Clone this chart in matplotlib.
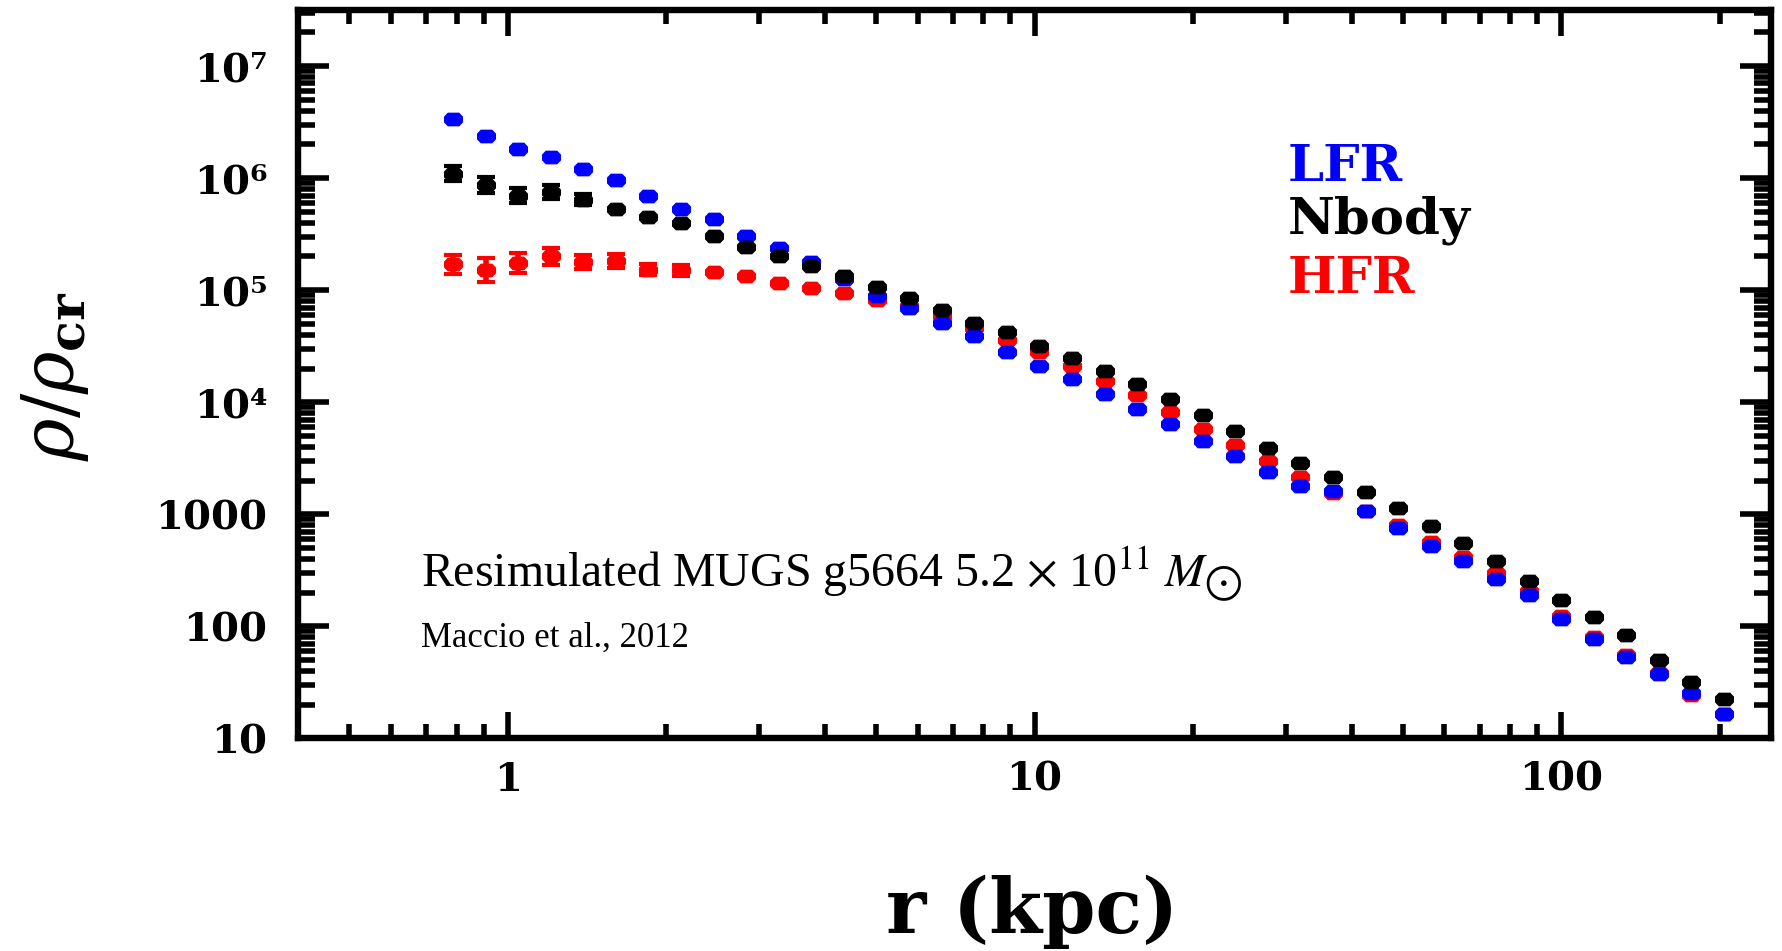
import numpy as np
import matplotlib
matplotlib.use("Agg")
import matplotlib.pyplot as plt
from matplotlib.ticker import FixedLocator, LogLocator, NullFormatter

# radius bins (kpc)
r = [0.787, 0.908, 1.046, 1.207, 1.391, 1.605, 1.850, 2.134, 2.460, 2.837,
     3.271, 3.772, 4.349, 5.015, 5.782, 6.670, 7.690, 8.868, 10.22, 11.79,
     13.60, 15.68, 18.07, 20.84, 24.04, 27.72, 31.96, 36.86, 42.50, 49.00,
     56.51, 65.16, 75.14, 86.63, 99.9, 115.2, 132.8, 153.2, 176.6, 203.7]

lfr = [3.34e6, 2.38e6, 1.83e6, 1.56e6, 1.22e6, 9.6e5, 6.9e5, 5.35e5, 4.3e5, 3.07e5,
       2.38e5, 1.77e5, 1.25e5, 8.9e4, 6.87e4, 5.15e4, 3.92e4, 2.79e4, 2.09e4, 1.61e4,
       1.19e4, 8.7e3, 6.4e3, 4.54e3, 3.33e3, 2.41e3, 1.79e3, 1.60e3, 1.07e3, 749,
       520, 382, 266, 190, 116, 77, 53.8, 37.7, 25.3, 16.5]

nbody = [1.10e6, 8.7e5, 7.0e5, 7.5e5, 6.4e5, 5.27e5, 4.54e5, 3.96e5, 3.05e5, 2.45e5,
         2.02e5, 1.63e5, 1.34e5, 1.07e5, 8.6e4, 6.69e4, 5.15e4, 4.2e4, 3.19e4, 2.46e4,
         1.92e4, 1.46e4, 1.06e4, 7.7e3, 5.5e3, 3.93e3, 2.9e3, 2.17e3, 1.58e3, 1.15e3,
         787, 550, 382, 256, 173, 121, 83, 49.7, 31.7, 22.3]

hfr = [1.71e5, 1.52e5, 1.76e5, 2.0e5, 1.79e5, 1.83e5, 1.52e5, 1.51e5, 1.46e5, 1.34e5,
       1.17e5, 1.04e5, 9.5e4, 8.2e4, 7.25e4, 5.9e4, 4.56e4, 3.58e4, 2.79e4, 2.11e4,
       1.54e4, 1.15e4, 8.2e3, 5.77e3, 4.18e3, 3.0e3, 2.17e3, 1.54e3, 1.07e3, 797,
       565, 418, 297, 206, 123, 80, 55.7, 38.7, 24.4, 16.5]

# error bars (dex) on the innermost bins, where they are visible
hfr_err_dex = [0.085, 0.11, 0.09, 0.08, 0.065, 0.065, 0.05, 0.05]
nbody_err_dex = [0.065, 0.07, 0.065, 0.065, 0.05]

xticks = [1, 10, 100]
xtick_labels = ['1', '10', '100']
yticks = [10, 100, 1000, 1e4, 1e5, 1e6, 1e7]
ytick_labels = ['10', '100', '1000', '10\u2074', '10\u2075', '10\u2076', '10\u2077']

labels = ['LFR', 'Nbody', 'HFR']
colors = ['#0000ff', '#000000', '#ff0000']

plt.rcParams['font.family'] = ['DejaVu Serif', 'DejaVu Sans']
plt.rcParams['mathtext.fontset'] = 'dejavuserif'

W, H = 1783, 951

# squashed octagon, like the low-res filled circles of the original
marker = [(-1, -0.3), (-0.6, -0.72), (0.6, -0.72), (1, -0.3),
          (1, 0.3), (0.6, 0.72), (-0.6, 0.72), (-1, 0.3)]
ms = 13.7


def draw_series(ax, y, color, err_dex=None):
    ax.plot(r, y, linestyle='none', marker=marker, ms=ms, color=color,
            markeredgewidth=0, zorder=3)
    if err_dex:
        n = len(err_dex)
        yy = np.array(y[:n])
        e = np.array(err_dex)
        lo = yy * (1 - 10 ** -e)
        hi = yy * (10 ** e - 1)
        ax.errorbar(r[:n], yy, yerr=[lo, hi], fmt='none', ecolor=color,
                    elinewidth=4, capsize=6.8, capthick=3, zorder=3)


def px(x, y):
    # reference pixel position -> figure fraction
    return x / W, 1 - y / H


fig = plt.figure(figsize=(W / 100, H / 100), dpi=100)
ax = fig.add_axes([298 / W, 1 - 738.4 / H, 1473 / W, 728.1 / H])
ax.set_xscale('log')
ax.set_yscale('log')

draw_series(ax, hfr, colors[2], hfr_err_dex)
draw_series(ax, lfr, colors[0])
draw_series(ax, nbody, colors[1], nbody_err_dex)

ax.set_xlim(0.40, 250)
ax.set_ylim(10, 3.15e7)

ax.xaxis.set_major_locator(FixedLocator(xticks))
ax.set_xticklabels(xtick_labels)
ax.xaxis.set_minor_locator(LogLocator(base=10, subs=np.arange(2, 10)))
ax.xaxis.set_minor_formatter(NullFormatter())
ax.yaxis.set_major_locator(FixedLocator(yticks))
ax.set_yticklabels(ytick_labels)
ax.yaxis.set_minor_locator(LogLocator(base=10, subs=np.arange(2, 10), numticks=20))
ax.yaxis.set_minor_formatter(NullFormatter())

for s in ax.spines.values():
    s.set_linewidth(4.6)
ax.tick_params(which='both', direction='in', top=True, right=True, width=4)
ax.tick_params(axis='y', which='major', length=22, pad=22, labelsize=29)
ax.tick_params(axis='y', which='minor', length=12)
ax.tick_params(axis='x', which='major', length=19, pad=16, labelsize=29)
ax.tick_params(axis='x', which='minor', length=10)
for lab in ax.get_xticklabels() + ax.get_yticklabels():
    lab.set_fontweight('bold')

fig.text(*px(1032, 912), 'r (kpc)', fontsize=55, fontweight='bold',
         ha='center', va='center')
fig.text(*px(55, 376), r'$\rho/\rho_{\mathbf{cr}}$', fontsize=52,
         rotation=90, ha='center', va='center')

for lab, col, base in zip(labels, colors, [180.7, 233.3, 293.3]):
    fig.text(*px(1288, base), lab, color=col, fontsize=37,
             fontweight='bold', ha='left', va='baseline')

fig.text(*px(421, 587),
         r'Resimulated MUGS g5664 5.2 $\times$ 10$^{11}$ $M_{\bigodot}$',
         fontsize=34.5, family='Liberation Serif', math_fontfamily='stix',
         ha='left', va='baseline')
fig.text(*px(421, 647), 'Maccio et al., 2012',
         fontsize=25, family='Liberation Serif', ha='left', va='baseline')

fig.savefig('out.png', dpi=100)
